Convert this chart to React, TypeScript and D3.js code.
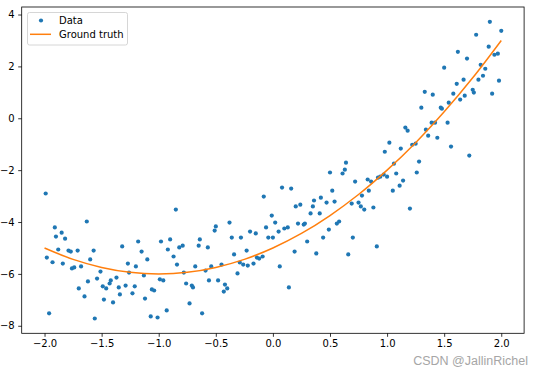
import { useEffect, useRef } from 'react'
import * as d3 from 'd3'

// scattered samples
const dataX = [
  -1.99, -1.98, -1.96, -1.93, -1.91, -1.9, -1.88, -1.85, -1.84, -1.82,
  -1.79, -1.77, -1.76, -1.74, -1.71, -1.7, -1.68, -1.65, -1.63, -1.62,
  -1.6, -1.57, -1.56, -1.54, -1.51, -1.49, -1.48, -1.46, -1.43, -1.42,
  -1.4, -1.37, -1.35, -1.34, -1.32, -1.29, -1.27, -1.26, -1.23, -1.21,
  -1.2, -1.18, -1.15, -1.13, -1.12, -1.1, -1.07, -1.06, -1.04, -1.01,
  -0.99, -0.98, -0.96, -0.93, -0.92, -0.9, -0.87, -0.85, -0.84, -0.82,
  -0.79, -0.78, -0.76, -0.73, -0.71, -0.7, -0.68, -0.65, -0.64, -0.62,
  -0.59, -0.57, -0.56, -0.54, -0.51, -0.5, -0.48, -0.45, -0.43, -0.42,
  -0.4, -0.38, -0.36, -0.34, -0.31, -0.29, -0.28, -0.26, -0.23, -0.22,
  -0.2, -0.17, -0.15, -0.14, -0.12, -0.09, -0.08, -0.06, -0.04, -0.01,
  0.0, 0.02, 0.05, 0.06, 0.08, 0.1, 0.13, 0.14, 0.16, 0.19,
  0.2, 0.22, 0.24, 0.27, 0.28, 0.3, 0.33, 0.35, 0.36, 0.38,
  0.41, 0.42, 0.44, 0.47, 0.49, 0.5, 0.52, 0.54, 0.56, 0.58,
  0.61, 0.63, 0.64, 0.66, 0.69, 0.7, 0.72, 0.75, 0.77, 0.78,
  0.8, 0.83, 0.84, 0.86, 0.88, 0.91, 0.92, 0.94, 0.97, 0.98,
  1.0, 1.02, 1.05, 1.06, 1.08, 1.11, 1.12, 1.14, 1.16, 1.18,
  1.2, 1.22, 1.25, 1.26, 1.28, 1.3, 1.33, 1.34, 1.36, 1.39,
  1.4, 1.42, 1.44, 1.47, 1.48, 1.5, 1.53, 1.54, 1.56, 1.58,
  1.61, 1.62, 1.64, 1.67, 1.68, 1.7, 1.72, 1.75, 1.76, 1.78,
  1.8, 1.82, 1.84, 1.86, 1.89, 1.9, 1.92, 1.94, 1.97, 1.98,
  2.0,
]

const dataY = [
  -2.9, -5.37, -7.52, -5.55, -4.21, -4.56, -5.06, -4.41, -5.6, -4.64,
  -5.1, -5.14, -5.79, -5.75, -5.1, -6.56, -5.71, -6.87, -3.98, -6.29,
  -5.44, -5.1, -7.72, -6.18, -5.91, -6.48, -6.99, -6.56, -6.37, -6.25,
  -7.1, -6.14, -6.52, -6.79, -4.94, -6.45, -5.6, -5.95, -6.75, -6.48,
  -5.71, -4.75, -5.14, -6.06, -6.95, -5.44, -7.64, -6.6, -6.64, -7.68,
  -6.21, -4.75, -6.25, -7.41, -5.06, -4.67, -5.33, -3.52, -5.64, -4.98,
  -4.91, -5.95, -6.37, -7.14, -6.45, -6.52, -5.71, -4.91, -4.67, -7.52,
  -5.87, -4.98, -6.25, -5.71, -4.33, -4.17, -6.25, -5.64, -6.68, -6.41,
  -6.56, -4.02, -4.6, -5.25, -5.98, -5.56, -4.6, -5.64, -5.1, -5.68,
  -4.37, -5.6, -4.44, -5.37, -5.41, -5.33, -3.02, -4.21, -4.6, -3.75,
  -4.6, -4.02, -4.37, -5.71, -2.67, -4.25, -4.21, -6.52, -2.71, -5.14,
  -3.4, -4.06, -3.33, -4.1, -4.06, -4.75, -3.67, -3.4, -3.17, -5.21,
  -3.67, -3.06, -4.6, -3.25, -4.29, -2.09, -2.79, -3.21, -4.06, -3.98,
  -2.13, -1.98, -1.71, -5.25, -3.29, -4.6, -2.44, -3.25, -3.4, -2.98,
  -3.52, -2.36, -2.79, -2.44, -3.44, -4.94, -2.29, -2.25, -2.17, -1.29,
  -2.25, -0.94, -2.79, -1.75, -2.13, -2.6, -1.17, -2.4, -0.36, -0.48,
  -3.48, -1.02, -0.98, -2.09, -1.67, 0.41, 1.02, -0.44, -0.67, -0.17,
  0.91, -0.17, -0.75, 0.41, 0.37, 1.95, -0.17, 0.6, -1.09, 0.95,
  1.33, 2.56, 0.72, 1.49, 0.87, 2.3, -1.44, 1.1, 0.99, 3.22,
  1.49, 2.06, 1.64, 1.91, 2.76, 3.72, 0.95, 2.45, 2.49, 1.45,
  3.37,
]

// ground truth curve
const truthX = [-2, -1.75, -1.5, -1.25, -1, -0.75, -0.5, -0.25, 0, 0.25, 0.5, 0.75, 1, 1.25, 1.5, 1.75, 2]
const truthY = [-5, -5.44, -5.75, -5.94, -6, -5.94, -5.75, -5.44, -5, -4.44, -3.75, -2.94, -2, -0.94, 0.25, 1.56, 3]

const xTicks = [-2, -1.5, -1, -0.5, 0, 0.5, 1, 1.5, 2]
const yTicks = [-8, -6, -4, -2, 0, 2, 4]

export default function App() {
  const ref = useRef<SVGSVGElement>(null)

  useEffect(() => {
    if (!ref.current) return
    const svg = d3.select(ref.current)
    svg.selectAll('*').remove()

    const left = 21.7
    const right = 524.1
    const top = 7
    const bottom = 333.3
    const font = 'DejaVu Sans, sans-serif'

    const x = d3.scaleLinear().domain([-2.2, 2.2]).range([left, right])
    const y = d3.scaleLinear().domain([-8.29, 4.29]).range([bottom, top])

    svg.append('rect').attr('width', 544).attr('height', 368).attr('fill', '#fff')

    // x axis
    const gx = svg
      .append('g')
      .attr('transform', `translate(0,${bottom})`)
      .call(
        d3
          .axisBottom(x)
          .tickValues(xTicks)
          .tickFormat((d) => d3.format('.1f')(d as number))
          .tickSize(3.5)
          .tickPadding(3.5)
      )
    gx.select('.domain').remove()
    gx.selectAll('line').attr('stroke', '#000').attr('stroke-width', 0.8)
    gx.selectAll('text').attr('fill', '#000').style('font-size', '10px').style('font-family', font)

    // y axis
    const gy = svg
      .append('g')
      .attr('transform', `translate(${left},0)`)
      .call(
        d3
          .axisLeft(y)
          .tickValues(yTicks)
          .tickFormat((d) => d3.format('d')(d as number))
          .tickSize(3.5)
          .tickPadding(3.5)
      )
    gy.select('.domain').remove()
    gy.selectAll('line').attr('stroke', '#000').attr('stroke-width', 0.8)
    gy.selectAll('text').attr('fill', '#000').style('font-size', '10px').style('font-family', font)

    // scatter
    const pts = dataX.map((v, i) => ({ x: v, y: dataY[i] }))
    svg
      .append('g')
      .selectAll('circle')
      .data(pts)
      .enter()
      .append('circle')
      .attr('cx', (d) => x(d.x))
      .attr('cy', (d) => y(d.y))
      .attr('r', 2.1)
      .attr('fill', '#1f77b4')

    // ground truth line
    const truth = truthX.map((v, i) => [v, truthY[i]] as [number, number])
    const line = d3
      .line<[number, number]>()
      .x((d) => x(d[0]))
      .y((d) => y(d[1]))
      .curve(d3.curveCatmullRom)
    svg
      .append('path')
      .datum(truth)
      .attr('d', line)
      .attr('fill', 'none')
      .attr('stroke', '#ff7f0e')
      .attr('stroke-width', 1.5)

    // frame
    svg
      .append('rect')
      .attr('x', left)
      .attr('y', top)
      .attr('width', right - left)
      .attr('height', bottom - top)
      .attr('fill', 'none')
      .attr('stroke', '#000')
      .attr('stroke-width', 0.8)

    // legend
    const lg = svg.append('g')
    lg.append('rect')
      .attr('x', 27.5)
      .attr('y', 12.5)
      .attr('width', 100)
      .attr('height', 32.5)
      .attr('rx', 2)
      .attr('fill', '#fff')
      .attr('fill-opacity', 0.8)
      .attr('stroke', '#cccccc')
      .attr('stroke-width', 0.8)
    lg.append('circle').attr('cx', 41).attr('cy', 20.5).attr('r', 2.1).attr('fill', '#1f77b4')
    lg.append('line')
      .attr('x1', 30).attr('x2', 51)
      .attr('y1', 34.3).attr('y2', 34.3)
      .attr('stroke', '#ff7f0e')
      .attr('stroke-width', 1.5)
    lg.append('text')
      .attr('x', 59)
      .attr('y', 24.2)
      .text('Data')
      .style('font-size', '10px')
      .style('font-family', font)
    lg.append('text')
      .attr('x', 59)
      .attr('y', 38)
      .text('Ground truth')
      .style('font-size', '10px')
      .style('font-family', font)

    // watermark, nudged below the tick labels
    svg
      .append('text')
      .attr('x', 528)
      .attr('y', 364.5)
      .attr('text-anchor', 'end')
      .text('CSDN @JallinRichel')
      .style('font-size', '12.5px')
      .style('font-family', 'Liberation Sans, Arial, sans-serif')
      .style('fill', '#a6a6a6')
  }, [])

  return (
    <svg
      ref={ref}
      width={544}
      height={368}
      style={{ position: 'absolute', left: 0, top: 0 }}
    />
  )
}
